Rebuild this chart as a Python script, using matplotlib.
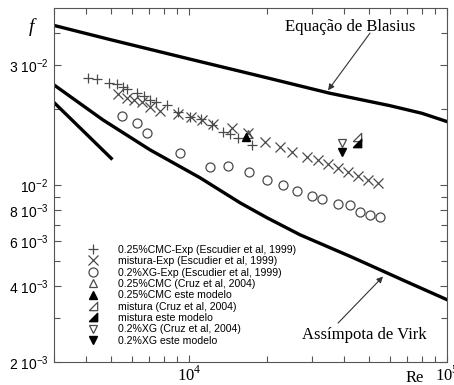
import matplotlib
matplotlib.use("Agg")
import matplotlib.pyplot as plt
from matplotlib.ticker import FixedLocator, LogLocator, NullFormatter


# experimental data (Escudier et al, 1999)
re_cmc = [4060, 4400, 4900, 5260, 5550, 5750, 6290, 6690, 7060, 7450,
          8220, 9070, 10090, 11130, 12280, 13540, 14420, 15490, 17550]
f_cmc = [0.0267, 0.0264, 0.0255, 0.0252, 0.0246, 0.0241, 0.0233, 0.0226, 0.0218, 0.0214,
         0.0208, 0.0196, 0.0187, 0.0184, 0.0174, 0.0163, 0.0160, 0.0154, 0.0145]

re_mix = [5300, 5750, 6120, 6570, 7060, 7720, 9070, 10180, 11230, 12390, 14680, 16930,
          19710, 22530, 25070, 28670, 31620, 34580, 37800, 41340, 45190, 49410, 54030]
f_mix = [0.0230, 0.0222, 0.0218, 0.0214, 0.0205, 0.0197, 0.0192, 0.0187, 0.0182, 0.0175, 0.0169, 0.0161,
         0.0149, 0.0142, 0.0136, 0.0130, 0.0126, 0.0122, 0.01175, 0.01133, 0.01092, 0.01053, 0.01025]

re_xg = [5500, 6290, 6870, 9230, 12060, 14160, 17080, 20060, 23140, 26220,
         29980, 32780, 37800, 42070, 46000, 50300, 55000]
f_xg = [0.01886, 0.01769, 0.01615, 0.01346, 0.01186, 0.01196, 0.01133, 0.01053, 0.01006, 0.00953,
        0.00911, 0.00886, 0.00847, 0.00839, 0.00787, 0.00766, 0.00752]

# Cruz et al (2004) and this model
re_cmc_cruz, f_cmc_cruz = [16930], [0.0160]
re_cmc_mod, f_cmc_mod = [16630], [0.01558]
re_mix_cruz, f_mix_cruz = [44790], [0.01558]
re_mix_mod, f_mix_mod = [44790], [0.01475]
re_xg_cruz, f_xg_cruz = [39170], [0.01475]
re_xg_mod, f_xg_mod = [39170], [0.01359]

# curves
re_blasius = [3000, 5000, 10000, 20000, 35000, 60000, 80000, 100000]
f_blasius = [0.0430, 0.0377, 0.0317, 0.0267, 0.0232, 0.0207, 0.0193, 0.0179]

re_virk = [3000, 4640, 7060, 11030, 15770, 20060, 26930, 43220, 70000, 100000]
f_virk = [0.0250, 0.01818, 0.01384, 0.01073, 0.00854, 0.00745, 0.00638, 0.00518, 0.00415, 0.00353]

re_lam = [3000, 5000]
f_lam = [0.0213, 0.0128]

legend_labels = [
    "0.25%CMC-Exp (Escudier et al, 1999)",
    "mistura-Exp (Escudier et al, 1999)",
    "0.2%XG-Exp (Escudier et al, 1999)",
    "0.25%CMC (Cruz et al, 2004)",
    "0.25%CMC este modelo",
    "mistura (Cruz et al, 2004)",
    "mistura este modelo",
    "0.2%XG (Cruz et al, 2004)",
    "0.2%XG este modelo",
]

y_major = [2e-3, 4e-3, 6e-3, 8e-3, 1e-2, 3e-2]
y_labels = ["2 10$^{\\mathregular{-3}}$", "4 10$^{\\mathregular{-3}}$", "6 10$^{\\mathregular{-3}}$",
            "8 10$^{\\mathregular{-3}}$", "10$^{\\mathregular{-2}}$", "3 10$^{\\mathregular{-2}}$"]
y_minor = [3e-3, 5e-3, 7e-3, 9e-3, 2e-2, 4e-2]

plt.rcParams["font.family"] = ["Liberation Sans", "DejaVu Sans"]

fig = plt.figure(figsize=(4.54, 3.85), dpi=100)
ax = fig.add_axes([0.119, 0.0597, 0.8656, 0.9195])
ax.set_xscale("log")
ax.set_yscale("log")
ax.set_xlim(3000, 1e5)
ax.set_ylim(2e-3, 0.0504)

ax.plot(re_blasius, f_blasius, color="black", lw=2.4)
ax.plot(re_virk, f_virk, color="black", lw=2.4)
ax.plot(re_lam, f_lam, color="black", lw=2.4)

grey = "#4a4a4a"
rtri = [(-1, -1), (1, -1), (1, 1), (-1, -1)]
ms = 6.5
ax.plot(re_cmc, f_cmc, ls="none", marker="+", ms=ms + 0.5, mew=0.9, color=grey, label=legend_labels[0])
ax.plot(re_mix, f_mix, ls="none", marker="x", ms=ms, mew=0.9, color=grey, label=legend_labels[1])
ax.plot(re_xg, f_xg, ls="none", marker="o", ms=ms, mew=0.9, mfc="none", color=grey, label=legend_labels[2])
ax.plot(re_cmc_cruz, f_cmc_cruz, ls="none", marker="^", ms=ms - 0.5, mew=0.9, mfc="none", color=grey, label=legend_labels[3])
ax.plot(re_cmc_mod, f_cmc_mod, ls="none", marker="^", ms=ms - 0.5, color="black", label=legend_labels[4])
ax.plot(re_mix_cruz, f_mix_cruz, ls="none", marker=rtri, ms=ms - 0.5, mew=0.9, mfc="none", color=grey, label=legend_labels[5])
ax.plot(re_mix_mod, f_mix_mod, ls="none", marker=rtri, ms=ms - 0.5, color="black", label=legend_labels[6])
ax.plot(re_xg_cruz, f_xg_cruz, ls="none", marker="v", ms=ms - 0.5, mew=0.9, mfc="none", color=grey, label=legend_labels[7])
ax.plot(re_xg_mod, f_xg_mod, ls="none", marker="v", ms=ms - 0.5, color="black", label=legend_labels[8])

ax.legend(loc="upper left", bbox_to_anchor=(0.069, 0.343), frameon=False, fontsize=7.6,
          handlelength=1.5, handletextpad=1.6, labelspacing=0.13, borderaxespad=0, borderpad=0.4)

# ticks
ax.yaxis.set_major_locator(FixedLocator(y_major))
ax.yaxis.set_minor_locator(FixedLocator(y_minor))
ax.set_yticklabels(y_labels)
ax.yaxis.set_minor_formatter(NullFormatter())
ax.xaxis.set_major_locator(FixedLocator([1e4, 1e5]))
ax.xaxis.set_minor_locator(LogLocator(base=10, subs=range(2, 10)))
ax.xaxis.set_minor_formatter(NullFormatter())
ax.set_xticklabels(["10$^{\\mathregular{4}}$", "10$^{\\mathregular{5}}$"], family="Liberation Serif", fontsize=12)
ax.tick_params(which="both", direction="in", top=True, right=True, color="#555555")
ax.tick_params(which="major", length=5, width=0.8, labelsize=10, pad=4)
ax.tick_params(axis="x", which="major", labelsize=12, pad=2.5)
ax.tick_params(which="minor", length=4, width=0.8)
for s in ax.spines.values():
    s.set_color("#555555")
    s.set_linewidth(0.8)

ax.text(-0.058, 0.945, "f", transform=ax.transAxes, family="Liberation Serif",
        style="italic", fontsize=14, ha="center", va="center")
ax.text(0.919, -0.044, "Re", transform=ax.transAxes, family="Liberation Serif",
        fontsize=12, ha="center", va="center")

ax.text(0.753, 0.946, "Equação de Blasius", transform=ax.transAxes, family="Liberation Serif",
        fontsize=12, ha="center", va="center")
ax.annotate("", xy=(34600, 0.0238), xytext=(0.804, 0.929), textcoords="axes fraction",
            arrowprops=dict(arrowstyle="-|>", color="#333333", lw=0.8, mutation_scale=9,
                            shrinkA=0, shrinkB=0))
ax.text(0.79, 0.076, "Assímpota de Virk", transform=ax.transAxes, family="Liberation Serif",
        fontsize=12, ha="center", va="center")
ax.annotate("", xy=(56500, 0.00436), xytext=(0.7227, 0.110), textcoords="axes fraction",
            arrowprops=dict(arrowstyle="-|>", color="#333333", lw=0.8, mutation_scale=9,
                            shrinkA=0, shrinkB=0))

fig.savefig("out.png", dpi=100)
